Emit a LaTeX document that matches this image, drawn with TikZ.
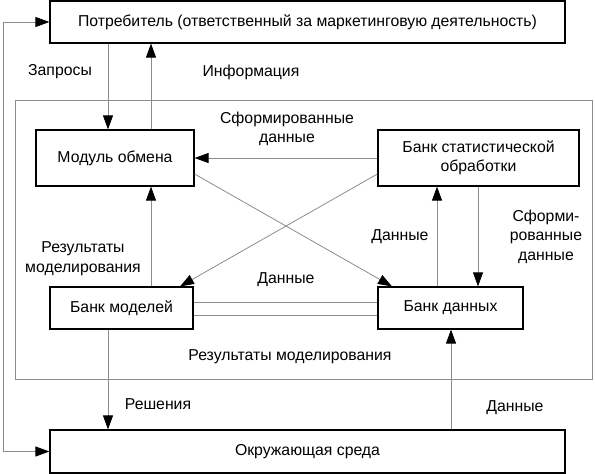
\documentclass[tikz,border=0pt]{standalone}
\usepackage{fontspec}
\setmainfont{Liberation Sans}
\usetikzlibrary{arrows.meta}
\begin{document}
\begin{tikzpicture}[x=1pt,y=-1pt,
  every node/.style={font=\fontsize{15.8}{19.5}\selectfont},
  box/.style={draw=black,line width=1.2pt,inner sep=0pt,align=center},
  conn/.style={draw=black!45,line width=0.8pt},
  arr/.style={conn,-{Triangle[length=14pt,width=10pt,color=black]}},
  darr/.style={conn,{Triangle[length=14pt,width=10pt,color=black]}-{Triangle[length=14pt,width=10pt,color=black]}},
  lbl/.style={align=center,inner sep=0pt}]
\useasboundingbox (0,0) rectangle (595,474);
% inner frame
\draw[draw=black!45,line width=0.8pt] (15,100) rectangle (592,379);
% boxes
\node[box,minimum width=515pt,minimum height=42pt] (top) at (307.5,22) {Потребитель (ответственный за маркетинговую деятельность)};
\node[box,minimum width=515pt,minimum height=43pt] (env) at (307.5,451.5) {Окружающая среда};
\node[box,minimum width=158pt,minimum height=56pt] (mod) at (115,158) {Модуль обмена};
\node[box,minimum width=201pt,minimum height=56pt] (stat) at (478.5,158) {Банк статистической\\обработки};
\node[box,minimum width=143pt,minimum height=42pt] (bm) at (121.5,308) {Банк моделей};
\node[box,minimum width=145pt,minimum height=42pt] (bd) at (450.5,308) {Банк данных};
% column coordinates
\coordinate (c108) at (108,0);
\coordinate (c151) at (151,0);
\coordinate (c437) at (437,0);
\coordinate (c478) at (478,0);
\coordinate (c451) at (451,0);
\coordinate (lx) at (3,0);
% connectors
\draw[darr] (top.west) -- (top.west -| lx) -- (env.west -| lx) -- (env.west);
\draw[arr] (top.south -| c108) -- (mod.north -| c108);
\draw[arr] (mod.north -| c151) -- (top.south -| c151);
\draw[arr] (stat.west |- mod.east) -- (mod.east);
\draw[arr] ([yshift=-16pt]mod.east) -- ([xshift=-58.5pt]bd.north);
\draw[arr] ([yshift=-16pt]stat.west) -- ([xshift=58.5pt]bm.north);
\draw[arr] (bm.north -| c151) -- (mod.south -| c151);
\draw[conn] ([yshift=6pt]bm.east) -- ([yshift=6pt]bd.west);
\draw[conn] ([yshift=-7pt]bm.east) -- ([yshift=-7pt]bd.west);
\draw[arr] (bd.north -| c437) -- (stat.south -| c437);
\draw[arr] (stat.south -| c478) -- (bd.north -| c478);
\draw[arr] (bm.south -| c108) -- (env.north -| c108);
\draw[arr] (env.north -| c451) -- (bd.south -| c451);
% labels
\node[lbl] (l1) at (60,72) {Запросы};
\node[lbl] (l2) at (251,72) {Информация};
\node[lbl] (l3) at (287,129) {Сформированные\\данные};
\node[lbl] (l4) at (83,258.5) {Результаты\\моделирования};
\node[lbl] (l5) at (286,280) {Данные};
\node[lbl] (l6) at (290,357) {Результаты моделирования};
\node[lbl] (l7) at (400,237) {Данные};
\node[lbl] (l8) at (546,236.5) {Сформи-\\рованные\\данные};
\node[lbl] (l9) at (158,404) {Решения};
\node[lbl] (l10) at (515,408) {Данные};
\end{tikzpicture}
\end{document}
